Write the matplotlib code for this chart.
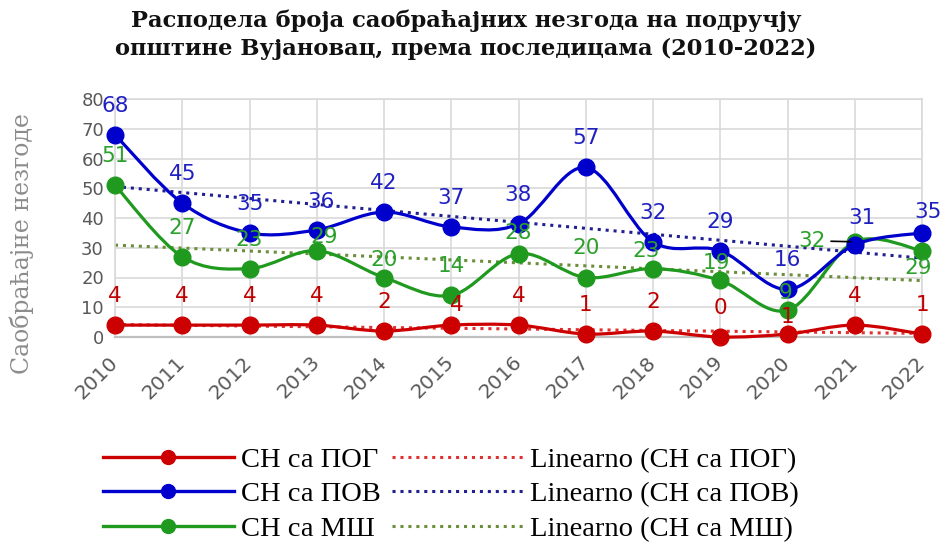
import numpy as np
import matplotlib
matplotlib.use('Agg')
import matplotlib.pyplot as plt
from matplotlib.path import Path
from matplotlib.patches import PathPatch
from matplotlib.lines import Line2D

years = list(range(2010, 2023))
pog = [4, 4, 4, 4, 2, 4, 4, 1, 2, 0, 1, 4, 1]
pov = [68, 45, 35, 36, 42, 37, 38, 57, 32, 29, 16, 31, 35]
msh = [51, 27, 23, 29, 20, 14, 28, 20, 23, 19, 9, 32, 29]
names = ['СН са ПОГ', 'СН са ПОВ', 'СН са МШ']

# line colour, label colour, trend colour
styles = [('#cc0000', '#c00000', '#e03030'),
          ('#0000cc', '#2020c0', '#202090'),
          ('#1f9a1f', '#2ca02c', '#6b8e3a')]

# label offsets in pixels for labels that were moved by hand (default is straight above)
moved = {
    (0, 2015): (6, 20), (0, 2020): (0, 17),
    (1, 2013): (4, 28), (1, 2021): (7, 27), (1, 2022): (6, 21),
    (2, 2013): (7, 14), (2, 2014): (0, 17), (2, 2016): (0, 21),
    (2, 2018): (-7, 18), (2, 2019): (-4, 17), (2, 2020): (-2, 17),
    (2, 2021): (-43, 1), (2, 2022): (-4, -17),
}


def smooth_path(x, y):
    # cubic bezier through the points, same kind of smoothing spreadsheets use
    n = len(x)
    verts = [(x[0], y[0])]
    codes = [Path.MOVETO]
    for i in range(n - 1):
        xa, ya = (x[i - 1], y[i - 1]) if i > 0 else (x[i], y[i])
        xb, yb = (x[i + 2], y[i + 2]) if i + 2 < n else (x[i + 1], y[i + 1])
        c1 = (x[i] + (x[i + 1] - xa) / 6., y[i] + (y[i + 1] - ya) / 6.)
        c2 = (x[i + 1] - (xb - x[i]) / 6., y[i + 1] - (yb - y[i]) / 6.)
        verts += [c1, c2, (x[i + 1], y[i + 1])]
        codes += [Path.CURVE4] * 3
    return Path(verts, codes)


fig = plt.figure(figsize=(9.44, 5.43), dpi=100)
ax = fig.add_axes([115 / 944., 1 - 337 / 543., (922 - 115) / 944., (337 - 99) / 543.])
ax.set_xlim(2010, 2022)
ax.set_ylim(0, 80)
ax.set_xticks(years)
ax.set_yticks(range(0, 81, 10))
ax.grid(True, color='#d9d9d9', lw=1.2)
ax.set_axisbelow(True)
for s in ['left', 'top', 'right']:
    ax.spines[s].set_color('#d9d9d9')
    ax.spines[s].set_linewidth(1.2)
ax.spines['bottom'].set_color('#bfbfbf')
ax.spines['bottom'].set_linewidth(1.6)
ax.tick_params(axis='both', length=0, labelsize=13, labelcolor='#595959')
ax.tick_params(axis='x', labelsize=14.5, pad=16)
ax.tick_params(axis='y', pad=8)
plt.setp(ax.get_xticklabels(), rotation=45, ha='right', va='center', rotation_mode='anchor')

x = np.array(years, dtype=float)
series = [pog, pov, msh]

# linear trends
for k, vals in enumerate(series):
    a, b = np.polyfit(x, vals, 1)
    ax.plot(x, a * x + b, color=styles[k][2], lw=2.2, ls=(0, (1, 1.6)), zorder=2)

zord = {0: 3, 2: 4, 1: 5}
for k, vals in enumerate(series):
    c = styles[k][0]
    ax.add_patch(PathPatch(smooth_path(x, np.array(vals, dtype=float)), fill=False,
                           edgecolor=c, lw=2.3, clip_on=False, zorder=zord[k]))
    ax.plot(x, vals, 'o', color=c, ms=12, clip_on=False, zorder=zord[k])

for k, vals in enumerate(series):
    for yr, v in zip(years, vals):
        dx, dy = moved.get((k, yr), (0, 29))
        if (k, yr) == (2, 2021):
            ax.annotate(str(v), xy=(yr, v), xytext=(dx, dy), textcoords='offset pixels',
                        ha='center', va='center', fontsize=15.5, color=styles[k][1],
                        arrowprops=dict(arrowstyle='-', color='black', lw=1.2,
                                        shrinkA=2, shrinkB=3), zorder=6)
        else:
            ax.annotate(str(v), xy=(yr, v), xytext=(dx, dy), textcoords='offset pixels',
                        ha='center', va='center', fontsize=15.5, color=styles[k][1], zorder=6)

fig.text(466 / 944., 1 - 35 / 543., 'Расподела броја саобраћајних незгода на подручју\n'
         'општине Вујановац, према последицама (2010-2022)',
         ha='center', va='center', fontsize=16.3, fontweight='bold', family='DejaVu Serif',
         linespacing=1.32, color='#111111')
fig.text(22 / 944., 1 - 244 / 543., 'Саобраћајне незгоде', rotation=90, ha='center', va='center',
         fontsize=17, family='DejaVu Serif', color='#8c8c8c')

handles = []
labels = []
for k in range(3):
    handles.append(Line2D([], [], color=styles[k][0], lw=2.4, marker='o', ms=10))
    labels.append(names[k])
for k in range(3):
    handles.append(Line2D([], [], color=styles[k][2], lw=2.2, ls=(0, (1, 1.6))))
    labels.append('Linearno (' + names[k] + ')')
fig.legend(handles, labels, ncol=2, loc='upper left', bbox_to_anchor=(103 / 944., 1 - 447 / 543.),
           frameon=False, prop={'family': 'Liberation Serif', 'size': 20.5},
           handlelength=4.6, handletextpad=0.25, columnspacing=0.4, labelspacing=0.3,
           borderpad=0, borderaxespad=0)

fig.savefig('out.png', dpi=100)
